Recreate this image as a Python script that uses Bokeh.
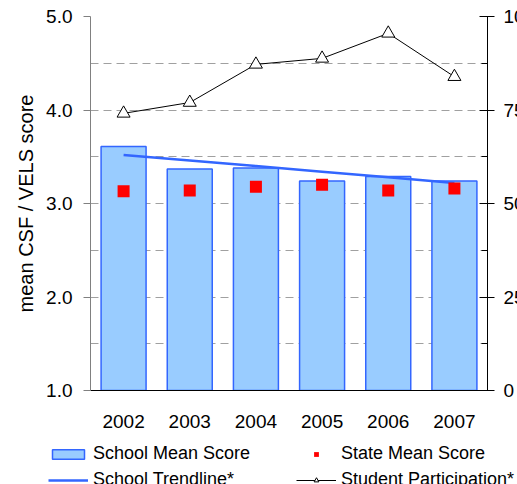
from bokeh.plotting import figure
from bokeh.layouts import column
from bokeh.models import (Range1d, FactorRange, LinearAxis, FixedTicker, Legend,
                          LegendItem, NumeralTickFormatter)
from bokeh.embed import file_html
from bokeh.resources import INLINE

years = ["2002", "2003", "2004", "2005", "2006", "2007"]
school_mean = [3.61, 3.37, 3.38, 3.24, 3.29, 3.24]
state_mean = [3.13, 3.14, 3.18, 3.20, 3.14, 3.16]
school_trend = [3.52, 3.46, 3.40, 3.34, 3.28, 3.22]
participation = [74.1, 77.0, 87.2, 88.8, 95.5, 83.9]
left_ticks = [1.0, 2.0, 3.0, 4.0, 5.0]
grid_ticks = [1.5, 2.0, 2.5, 3.0, 3.5, 4.0, 4.5, 5.0]
right_ticks = [0, 25, 50, 75, 100]
right_minor = [12.5, 37.5, 62.5, 87.5]
legend_labels = ["School Mean Score", "School Trendline*",
                 "State Mean Score", "Student Participation*"]

FONT = "Liberation Sans"
FS = "18px"
TICK_FS = "19px"

BAR_STYLE = dict(fill_color="#99CCFF", line_color="#3366FF", line_width=1.5)
TREND_STYLE = dict(line_color="#3366FF", line_width=2.5)
STATE_STYLE = dict(marker="square", size=12, fill_color="#FF0000", line_color=None)
PART_LINE = dict(line_color="black", line_width=1)
PART_PTS = dict(marker="triangle", size=13, fill_color="white",
                line_color="black", line_width=1)

p = figure(x_range=FactorRange(factors=years), y_range=Range1d(1, 5),
           frame_width=397, frame_height=374, output_backend="svg",
           toolbar_location=None, min_border_left=90, min_border_right=0,
           min_border_top=16, min_border_bottom=50)
p.extra_y_ranges = {"pct": Range1d(0, 100)}
p.outline_line_color = None
p.background_fill_color = "white"

# grid
p.xgrid.grid_line_color = None
p.ygrid.ticker = FixedTicker(ticks=grid_ticks)
p.ygrid.grid_line_color = "#A0A0A0"
p.ygrid.grid_line_dash = "8 5"
p.ygrid.grid_line_width = 1

# left axis
ya = p.yaxis[0]
ya.ticker = FixedTicker(ticks=left_ticks)
ya.formatter = NumeralTickFormatter(format="0.0")
ya.major_tick_in = 0
ya.major_tick_out = 7
ya.minor_tick_line_color = None
ya.axis_line_color = "#808080"
ya.major_tick_line_color = "#808080"
ya.major_label_text_font = FONT
ya.major_label_text_font_size = TICK_FS
ya.major_label_text_color = "black"
ya.major_label_standoff = 11
ya.axis_label = "mean CSF / VELS score"
ya.axis_label_text_font = FONT
ya.axis_label_text_font_size = "20px"
ya.axis_label_text_font_style = "normal"
ya.axis_label_text_color = "black"
ya.axis_label_standoff = 6

# bottom axis
xa = p.xaxis[0]
xa.major_tick_line_color = None
xa.axis_line_color = "black"
xa.major_label_text_font = FONT
xa.major_label_text_font_size = TICK_FS
xa.major_label_text_color = "black"
xa.major_label_standoff = 18

# right axis
ra = LinearAxis(y_range_name="pct",
                ticker=FixedTicker(ticks=right_ticks, minor_ticks=right_minor))
ra.major_tick_in = 8
ra.major_tick_out = 7
ra.minor_tick_in = 6
ra.minor_tick_out = 0
ra.axis_line_color = "black"
ra.major_tick_line_color = "black"
ra.minor_tick_line_color = "black"
ra.major_label_text_font = FONT
ra.major_label_text_font_size = TICK_FS
ra.major_label_text_color = "black"
ra.major_label_standoff = 9
p.add_layout(ra, "right")

# glyphs
p.vbar(x=years, top=school_mean, bottom=1, width=0.68, **BAR_STYLE)
p.line(years, school_trend, **TREND_STYLE)
p.scatter(years, state_mean, **STATE_STYLE)
p.line(years, participation, y_range_name="pct", **PART_LINE)
p.scatter(years, participation, y_range_name="pct", **PART_PTS)

# legend strip below the chart (its own plot, data kept outside its view)
lp = figure(width=535, height=60, output_backend="svg", toolbar_location=None,
            x_range=FactorRange(factors=years), y_range=Range1d(200, 201),
            x_axis_location=None, y_axis_location=None, min_border=0)
lp.frame_align = False
lp.grid.grid_line_color = None
lp.outline_line_color = None
r_bar = lp.vbar(x=years, top=school_mean, bottom=1, width=0.68, **BAR_STYLE)
r_trend = lp.line(years, school_trend, **TREND_STYLE)
r_state = lp.scatter(years, state_mean, **STATE_STYLE)
r_pl = lp.line(years, participation, **PART_LINE)
r_pp = lp.scatter(years, participation, **PART_PTS)

legend = Legend(
    items=[LegendItem(label=legend_labels[0], renderers=[r_bar]),
           LegendItem(label=legend_labels[1], renderers=[r_trend]),
           LegendItem(label=legend_labels[2], renderers=[r_state]),
           LegendItem(label=legend_labels[3], renderers=[r_pl, r_pp])],
    orientation="vertical", nrows=2, location=(48, 10),
    glyph_width=40, glyph_height=12, label_height=20, label_width=198,
    label_standoff=5, spacing=5, padding=0, margin=0,
    border_line_color=None, background_fill_alpha=0,
    label_text_font=FONT, label_text_font_size=FS, label_text_color="black")
lp.add_layout(legend, "center")

page = column(p, lp, spacing=0)
open("out.html", "w").write(file_html(page, INLINE))
